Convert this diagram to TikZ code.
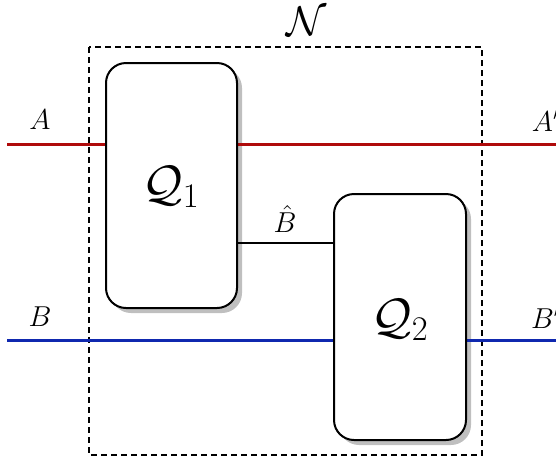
\documentclass[tikz,border=0pt]{standalone}
\definecolor{wirered}{RGB}{175,10,10}
\definecolor{wireblue}{RGB}{15,40,175}
\begin{document}
\begin{tikzpicture}[x=0.5pt,y=-0.5pt,
  chan/.style={draw=black,line width=1pt,fill=white,rounded corners=10pt,inner sep=0pt},
  chanshadow/.style={fill=black!25,rounded corners=10pt},
  wire/.style={line width=1.5pt},
  thin wire/.style={line width=0.7pt},
  lab/.style={inner sep=0pt,font=\fontsize{15.5}{18}\selectfont},
  bigq/.style={font=\fontsize{27}{30}\selectfont}]
\useasboundingbox (0,0) rectangle (556,462);
% dashed outer box
\draw[line width=0.7pt,dash pattern=on 3pt off 2pt] (89,47) rectangle (482,455);
\node[inner sep=0pt,font=\huge] (N) at (307,21) {$\mathcal{N}$};
% shadows
\fill[chanshadow] (111,68) rectangle (242,313);
\fill[chanshadow] (339,199) rectangle (471,445);
% wires
\coordinate (ain) at (7,144);
\coordinate (aout) at (556,144);
\coordinate (bin) at (7,340);
\coordinate (bout) at (556,340);
\draw[wire,wirered] (ain) -- (aout);
\draw[wire,wireblue] (bin) -- (bout);
% channels
\node[chan,minimum width=65.5pt,minimum height=122.5pt] (Q1) at (171.5,185.5) {};
\node[chan,minimum width=66pt,minimum height=123pt] (Q2) at (400,317) {};
\node[bigq] (q1t) at (171,187) {$\mathcal{Q}_1$};
\node[bigq] (q2t) at (400,320) {$\mathcal{Q}_2$};
% B-hat wire
\coordinate (bh) at (0,243);
\draw[thin wire] (Q1.east |- bh) -- (Q2.west |- bh);
% labels
\node[lab] (A) at (40,120) {$A$};
\node[lab] (Ap) at (546,120) {$A'$};
\node[lab] (B) at (40,317) {$B$};
\node[lab] (Bp) at (546,317) {$B'$};
\node[lab] (Bh) at (285,219) {$\hat{B}$};
\end{tikzpicture}
\end{document}
